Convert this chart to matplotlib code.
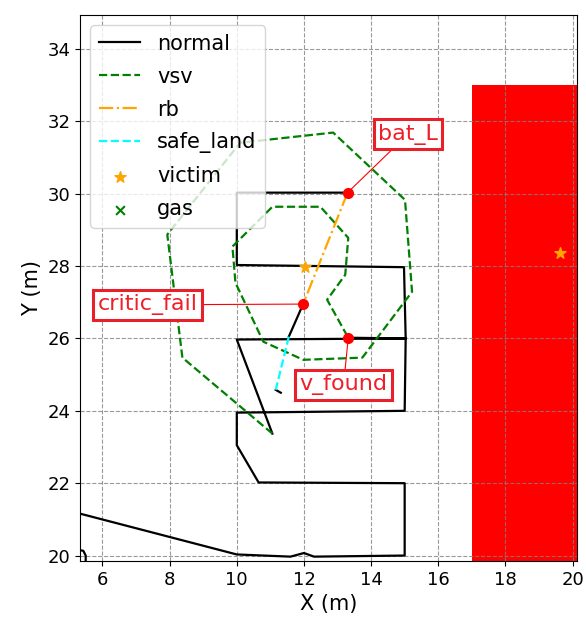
import numpy as np
import matplotlib
matplotlib.use('Agg')
import matplotlib.pyplot as plt
from matplotlib.patches import Rectangle

nan = np.nan

# ── normal flight path (NaN separates the pieces)
normal_x = [5.5, 5.5, 5.43, 5.33, 5.2, 10.0, 11.6, 12.0, 12.3, 15.0, 15.0, 10.65, 10.0, 10.0,
            15.0, 15.03, 10.0, 11.06, nan,
            13.32, 15.03, 14.98, 10.0, 10.0, 13.3, nan,
            11.98, 11.55, nan,
            11.16, 11.31]
normal_y = [19.8, 20.0, 20.13, 20.15, 21.19, 20.03, 19.97, 20.07, 19.97, 20.0, 22.0, 22.02, 23.05, 23.95,
            24.0, 26.0, 25.97, 23.37, nan,
            26.02, 26.0, 27.97, 28.03, 30.03, 30.03, nan,
            26.96, 26.05, nan,
            24.58, 24.5]

# ── victim search (spiral)
vsv_x = [11.06, 8.38, 7.93, 10.10, 12.87, 15.01, 15.22, 13.74, 11.98, 10.79,
         9.96, 9.87, 11.06, 12.49, 13.32, 13.23, 12.69, 13.32]
vsv_y = [23.37, 25.47, 28.87, 31.41, 31.69, 29.83, 27.29, 25.47, 25.41, 25.91,
         27.54, 28.54, 29.64, 29.64, 28.78, 27.76, 27.07, 26.02]

# ── return to base
rb_x = [13.3, 11.98]
rb_y = [30.03, 26.96]

# ── safe landing
safe_x = [11.55, 11.16]
safe_y = [26.05, 24.58]

victim_x = [12.04, 19.63]
victim_y = [27.98, 28.37]

gas_x = []
gas_y = []

# gas zone
zone_x0, zone_x1 = 17.0, 20.5
zone_y0, zone_y1 = 19.0, 33.0

# events
event_names = ['bat_L', 'critic_fail', 'v_found']
event_x = [13.3, 11.98, 13.32]
event_y = [30.03, 26.95, 26.02]
label_x = [15.1, 7.35, 13.18]
label_y = [31.65, 26.93, 24.72]

fig = plt.figure(figsize=(5.86, 6.17), dpi=100)
ax = fig.add_axes([0.1365, 0.0908, 0.848, 0.8849])

ax.add_patch(Rectangle((zone_x0, zone_y0), zone_x1 - zone_x0, zone_y1 - zone_y0,
                       facecolor='red', edgecolor='none', zorder=1))

ax.plot(normal_x, normal_y, color='black', lw=1.6, label='normal', zorder=3)
ax.plot(vsv_x, vsv_y, color='green', ls='--', lw=1.6, label='vsv', zorder=3)
ax.plot(rb_x, rb_y, color='orange', ls='-.', lw=1.6, label='rb', zorder=3)
ax.plot(safe_x, safe_y, color='cyan', ls='--', lw=1.6, label='safe_land', zorder=3)
ax.scatter(victim_x, victim_y, marker='*', s=70, color='orange', label='victim', zorder=4)
ax.scatter(gas_x, gas_y, marker='x', s=40, color='green', label='gas', zorder=4)

ax.plot(event_x, event_y, 'o', color='red', ms=7, zorder=5)
for name, px, py, tx, ty in zip(event_names, event_x, event_y, label_x, label_y):
    ax.annotate(name, xy=(px, py), xytext=(tx, ty), ha='center', va='center',
                fontsize=16, color='#f01e28', zorder=6,
                bbox=dict(boxstyle='square,pad=0.2', fc='white', ec='#e8202a', lw=2.2),
                arrowprops=dict(arrowstyle='-', color='red', lw=0.8, shrinkA=0, shrinkB=0))

ax.set_xlim(5.33, 20.13)
ax.set_ylim(19.85, 34.94)
ax.set_xticks(np.arange(6, 21, 2))
ax.set_yticks(np.arange(20, 35, 2))
ax.tick_params(labelsize=13)
ax.set_xlabel('X (m)', fontsize=15)
ax.set_ylabel('Y (m)', fontsize=15)
ax.grid(True, linestyle='--', color='gray', alpha=0.8, lw=0.8)
ax.legend(loc='upper left', fontsize=15, labelspacing=0.62)

fig.savefig('out.png', dpi=100)
